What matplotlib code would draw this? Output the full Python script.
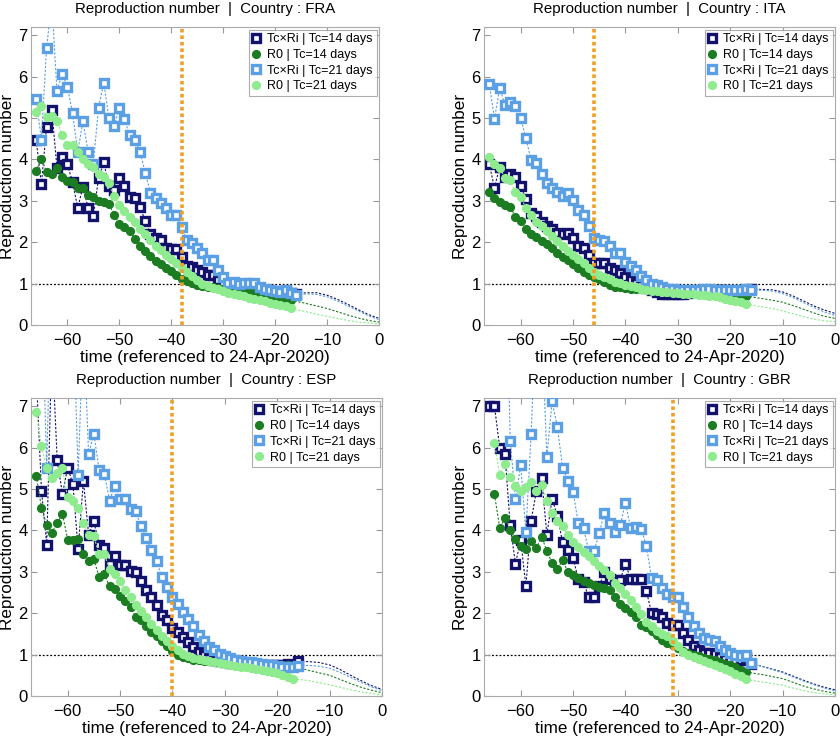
import numpy as np
import matplotlib.pyplot as plt

plt.rcParams['font.family'] = ['Liberation Sans', 'DejaVu Sans']

# days relative to 24-Apr-2020
days_ri = np.arange(-66, -15)   # Tc x Ri : -66 .. -16
days_r0 = np.arange(-66, -16)   # R0      : -66 .. -17
ext_ri = [-16, -14, -12, -10, -8, -6, -4, -2, 0]
ext_r0 = [-17, -14, -12, -10, -8, -6, -4, -2, 0]

countries = ['FRA', 'ITA', 'ESP', 'GBR']
vline_day = [-38, -46, -40, -31]

# ---- FRA
fra_ri14 = [4.46, 3.41, 4.78, 5.20, 3.80, 4.06, 3.88, 3.45, 2.83, 3.34, 2.83, 2.63, 3.54, 3.93, 3.37, 3.26, 3.55,
            3.37, 3.10, 3.07, 2.85, 2.51, 2.21, 2.09, 2.05, 1.86, 1.84, 1.84, 1.65, 1.43, 1.39, 1.33, 1.28, 1.22,
            1.20, 1.09, 1.02, 0.97, 0.96, 0.95, 0.93, 0.92, 0.92, 0.88, 0.85, 0.83, 0.81, 0.80, 0.83, 0.78, 0.75]
fra_r014 = [3.72, 4.02, 3.70, 3.64, 3.80, 3.58, 3.48, 3.46, 3.32, 3.30, 3.15, 3.10, 3.00, 2.97, 2.92, 2.66, 2.45,
            2.36, 2.28, 2.08, 1.92, 1.78, 1.66, 1.55, 1.48, 1.38, 1.30, 1.20, 1.12, 1.06, 1.01, 0.97, 0.95, 0.93,
            0.92, 0.90, 0.88, 0.86, 0.84, 0.83, 0.82, 0.80, 0.78, 0.76, 0.73, 0.70, 0.68, 0.65, 0.62, 0.60]
fra_ri21 = [5.45, 4.47, 6.70, 7.80, 5.66, 6.07, 5.76, 5.12, 4.18, 4.92, 4.18, 3.90, 5.25, 5.85, 5.01, 4.80, 5.25,
            4.97, 4.58, 4.48, 4.18, 3.68, 3.19, 3.06, 2.94, 2.82, 2.65, 2.65, 2.37, 2.05, 1.97, 1.85, 1.73, 1.57,
            1.57, 1.34, 1.15, 1.02, 1.05, 1.00, 1.02, 1.02, 1.02, 0.92, 0.86, 0.84, 0.82, 0.80, 0.84, 0.78, 0.73]
fra_r021 = [5.15, 5.30, 5.03, 5.05, 4.93, 4.58, 4.36, 4.36, 4.18, 4.02, 3.88, 3.82, 3.65, 3.58, 3.42, 3.12, 2.90,
            2.75, 2.62, 2.50, 2.33, 2.20, 2.05, 1.92, 1.82, 1.70, 1.60, 1.50, 1.38, 1.28, 1.18, 1.08, 1.00, 0.95,
            0.90, 0.86, 0.82, 0.78, 0.75, 0.72, 0.69, 0.66, 0.63, 0.60, 0.57, 0.54, 0.51, 0.48, 0.45, 0.40]
fra_ext = [[0.75, 0.78, 0.78, 0.72, 0.62, 0.50, 0.37, 0.25, 0.16],
           [0.60, 0.52, 0.46, 0.40, 0.32, 0.24, 0.17, 0.11, 0.07],
           [0.73, 0.75, 0.74, 0.68, 0.58, 0.46, 0.34, 0.22, 0.13],
           [0.40, 0.32, 0.26, 0.21, 0.16, 0.11, 0.07, 0.05, 0.03]]

# ---- ITA
ita_ri14 = [3.89, 3.32, 3.82, 3.58, 3.64, 3.58, 3.36, 3.04, 2.70, 2.64, 2.50, 2.40, 2.33, 2.22, 2.20, 2.22, 2.10,
            1.92, 1.86, 1.68, 1.49, 1.51, 1.49, 1.38, 1.33, 1.26, 1.17, 1.09, 1.02, 0.97, 0.90, 0.85, 0.80, 0.76,
            0.75, 0.75, 0.76, 0.76, 0.78, 0.80, 0.81, 0.82, 0.83, 0.84, 0.84, 0.84, 0.83, 0.82, 0.83, 0.85, 0.86]
ita_r014 = [3.22, 3.08, 2.98, 2.90, 2.86, 2.61, 2.52, 2.33, 2.20, 2.12, 2.04, 1.95, 1.85, 1.74, 1.65, 1.57, 1.48,
            1.38, 1.29, 1.22, 1.17, 1.10, 1.03, 0.97, 0.93, 0.91, 0.89, 0.88, 0.87, 0.86, 0.86, 0.86, 0.86, 0.86,
            0.87, 0.87, 0.87, 0.87, 0.88, 0.88, 0.88, 0.87, 0.86, 0.85, 0.84, 0.82, 0.80, 0.78, 0.75, 0.70]
ita_ri21 = [5.83, 4.98, 5.73, 5.32, 5.38, 5.28, 4.99, 4.52, 3.98, 3.92, 3.65, 3.42, 3.32, 3.22, 3.12, 3.20, 3.03,
            2.77, 2.66, 2.40, 2.09, 2.06, 2.04, 1.90, 1.73, 1.73, 1.53, 1.43, 1.33, 1.18, 1.08, 0.99, 0.96, 0.92,
            0.88, 0.86, 0.85, 0.84, 0.84, 0.85, 0.85, 0.86, 0.86, 0.85, 0.85, 0.84, 0.84, 0.84, 0.85, 0.86, 0.85]
ita_r021 = [4.05, 3.90, 3.80, 3.55, 3.50, 3.22, 3.10, 2.82, 2.66, 2.50, 2.38, 2.26, 2.14, 2.02, 1.90, 1.80, 1.70,
            1.59, 1.49, 1.38, 1.28, 1.22, 1.16, 1.10, 1.05, 1.01, 0.97, 0.94, 0.91, 0.88, 0.85, 0.83, 0.81, 0.80,
            0.79, 0.78, 0.77, 0.76, 0.75, 0.74, 0.73, 0.72, 0.71, 0.69, 0.67, 0.64, 0.61, 0.58, 0.55, 0.51]
ita_ext = [[0.86, 0.86, 0.85, 0.80, 0.70, 0.58, 0.46, 0.36, 0.28],
           [0.70, 0.64, 0.60, 0.55, 0.47, 0.38, 0.29, 0.21, 0.16],
           [0.85, 0.84, 0.82, 0.76, 0.66, 0.54, 0.42, 0.31, 0.23],
           [0.51, 0.44, 0.40, 0.34, 0.27, 0.20, 0.14, 0.10, 0.08]]

# ---- ESP
esp_ri14 = [7.80, 4.96, 3.66, 8.50, 5.70, 4.88, 5.52, 5.12, 3.55, 5.20, 3.90, 4.22, 3.66, 3.58, 3.20, 3.38, 3.17,
            3.17, 3.02, 3.00, 2.77, 2.55, 2.38, 2.20, 1.95, 1.83, 1.65, 1.54, 1.42, 1.30, 1.18, 1.06, 0.98, 0.93,
            0.88, 0.85, 0.82, 0.80, 0.79, 0.78, 0.78, 0.77, 0.77, 0.76, 0.76, 0.75, 0.74, 0.76, 0.77, 0.76, 0.84]
esp_r014 = [5.32, 4.55, 4.12, 3.95, 4.18, 4.40, 3.78, 3.78, 3.80, 3.42, 3.27, 3.30, 2.88, 2.94, 2.65, 2.58, 2.42,
            2.30, 2.16, 1.90, 1.84, 1.70, 1.55, 1.45, 1.34, 1.22, 1.08, 1.00, 0.95, 0.91, 0.88, 0.86, 0.85, 0.84,
            0.83, 0.82, 0.82, 0.81, 0.81, 0.80, 0.80, 0.80, 0.79, 0.79, 0.78, 0.77, 0.76, 0.75, 0.74, 0.72]
esp_ri21 = [9.00, 10.0, 5.52, 11.0, 12.0, 12.0, 11.0, 9.50, 5.34, 9.00, 5.85, 6.33, 5.47, 5.37, 4.72, 5.08, 4.75,
            4.75, 4.52, 4.47, 4.10, 3.81, 3.53, 3.25, 2.87, 2.64, 2.40, 2.22, 2.04, 1.86, 1.70, 1.47, 1.34, 1.18,
            1.10, 1.02, 0.97, 0.92, 0.88, 0.85, 0.83, 0.82, 0.80, 0.78, 0.76, 0.74, 0.72, 0.70, 0.70, 0.70, 0.73]
esp_r021 = [6.86, 6.03, 5.50, 5.26, 5.38, 5.50, 4.80, 4.70, 4.55, 4.18, 3.90, 3.86, 3.42, 3.42, 3.07, 2.94, 2.78,
            2.56, 2.38, 2.20, 2.06, 1.90, 1.74, 1.60, 1.46, 1.34, 1.20, 1.10, 1.02, 0.97, 0.93, 0.90, 0.87, 0.84,
            0.81, 0.79, 0.77, 0.75, 0.73, 0.71, 0.69, 0.67, 0.65, 0.63, 0.61, 0.58, 0.55, 0.51, 0.47, 0.42]
esp_ext = [[0.84, 0.83, 0.81, 0.75, 0.64, 0.50, 0.37, 0.25, 0.16],
           [0.72, 0.62, 0.56, 0.50, 0.40, 0.30, 0.21, 0.14, 0.08],
           [0.73, 0.74, 0.72, 0.67, 0.57, 0.45, 0.33, 0.22, 0.13],
           [0.42, 0.37, 0.32, 0.27, 0.21, 0.15, 0.10, 0.06, 0.03]]

# ---- GBR
gbr_ri14 = [7.00, 7.00, 6.00, 5.84, 4.13, 3.20, 3.76, 2.66, 4.24, 4.95, 5.26, 3.90, 4.77, 4.35, 3.72, 3.52, 3.34,
            2.82, 2.76, 2.38, 2.38, 2.65, 3.00, 2.83, 2.80, 2.80, 3.20, 2.82, 2.82, 2.82, 2.53, 2.00, 1.98, 1.90,
            1.77, 1.71, 1.71, 1.52, 1.36, 1.22, 1.10, 1.04, 1.04, 1.02, 0.94, 0.90, 0.90, 0.88, 0.86, 0.95, 0.78]
gbr_r014 = [np.nan, 4.87, 4.06, 4.30, 4.00, 3.80, 3.62, 3.55, 3.75, 3.58, 3.85, 3.50, 3.22, 3.07, 3.28, 3.00, 2.93,
            2.86, 2.78, 2.72, 2.68, 2.64, 2.62, 2.56, 2.40, 2.23, 2.13, 2.03, 1.92, 1.72, 1.66, 1.56, 1.48, 1.36,
            1.28, 1.24, 1.16, 1.08, 1.03, 1.00, 0.96, 0.93, 0.90, 0.86, 0.82, 0.78, 0.74, 0.70, 0.64, 0.58]
gbr_ri21 = [9.00, 10.0, 11.0, 12.0, 6.17, 4.77, 5.58, 3.97, 6.33, 9.50, 9.00, 5.78, 7.12, 6.50, 5.52, 5.20, 4.94,
            4.17, 4.05, 3.50, 3.50, 3.94, 4.43, 4.19, 3.97, 4.12, 4.67, 4.05, 4.09, 4.04, 3.63, 2.84, 2.80, 2.60,
            2.47, 2.40, 2.40, 2.14, 1.90, 1.70, 1.52, 1.40, 1.36, 1.34, 1.22, 1.10, 1.04, 1.00, 0.96, 1.00, 0.80]
gbr_r021 = [np.nan, 6.12, 5.35, 5.60, 5.28, 5.08, 4.95, 5.04, 5.17, 4.95, 5.10, 4.72, 4.42, 4.24, 4.10, 3.90, 3.72,
            3.60, 3.48, 3.38, 3.27, 3.15, 3.04, 2.92, 2.72, 2.60, 2.46, 2.31, 2.16, 1.98, 1.80, 1.68, 1.57, 1.49,
            1.44, 1.34, 1.22, 1.06, 1.00, 0.95, 0.90, 0.85, 0.80, 0.75, 0.70, 0.65, 0.60, 0.54, 0.48, 0.40]
gbr_ext = [[0.78, 0.72, 0.65, 0.58, 0.48, 0.38, 0.29, 0.21, 0.15],
           [0.58, 0.52, 0.47, 0.42, 0.33, 0.24, 0.17, 0.11, 0.07],
           [0.80, 0.72, 0.64, 0.56, 0.46, 0.36, 0.27, 0.19, 0.12],
           [0.40, 0.34, 0.30, 0.26, 0.19, 0.13, 0.08, 0.05, 0.03]]

series = {
    'FRA': [fra_ri14, fra_r014, fra_ri21, fra_r021, fra_ext],
    'ITA': [ita_ri14, ita_r014, ita_ri21, ita_r021, ita_ext],
    'ESP': [esp_ri14, esp_r014, esp_ri21, esp_r021, esp_ext],
    'GBR': [gbr_ri14, gbr_r014, gbr_ri21, gbr_r021, gbr_ext],
}

labels = ['Tc\u00d7Ri | Tc=14 days', 'R0 | Tc=14 days', 'Tc\u00d7Ri | Tc=21 days', 'R0 | Tc=21 days']
colors = ['#12126c', '#1c7c22', '#5b9fe4', '#8eec8e']
is_ri = [True, False, True, False]

# axes boxes in pixels: left, top, right, bottom
boxes = [(31, 27, 379, 325), (484, 27, 835, 325), (31, 398, 382, 696), (484, 398, 835, 696)]

fig = plt.figure(figsize=(8.4, 7.4), dpi=100)

for k, cc in enumerate(countries):
    l, t, r, b = boxes[k]
    w, h = r - l, b - t
    ax = fig.add_axes([l / 840, 1 - b / 740, w / 840, h / 740])
    data = series[cc]
    handles = []
    for i in range(4):
        days = days_ri if is_ri[i] else days_r0
        ext = ext_ri if is_ri[i] else ext_r0
        c = colors[i]
        ax.plot(days, data[i], ls=(0, (2, 1.5)), lw=0.8, color=c, zorder=2 + i)
        ax.plot(ext, data[4][i], ls=(0, (2, 1.5)), lw=0.8, color=c, zorder=2 + i)
        if is_ri[i]:
            hd, = ax.plot(days, data[i], ls='none', marker='s', ms=5.6, mec=c, mfc='white',
                          mew=2.4, zorder=2 + i, label=labels[i])
        else:
            hd, = ax.plot(days, data[i], ls='none', marker='o', ms=5.6, mec=c, mfc=c,
                          zorder=2 + i, label=labels[i])
        handles.append(hd)

    ax.axhline(1, color='black', ls=(0, (1.5, 1.5)), lw=0.9, zorder=1)
    ax.axvline(vline_day[k], color='#f0a028', ls=(0, (1, 0.8)), lw=2.6, zorder=10)

    ax.set_xlim(-67, 0)
    ax.set_ylim(0, 7.2)
    ax.set_xticks(range(-60, 1, 10))
    ax.set_yticks(range(0, 8))
    ax.tick_params(direction='in', top=True, right=True, length=4, labelsize=12,
                   color='#999999')
    ax.tick_params(axis='x', pad=6)
    ax.tick_params(axis='y', pad=2.5)
    for s in ax.spines.values():
        s.set_color('#aaaaaa')
        s.set_linewidth(0.8)

    ax.set_title('Reproduction number  |  Country : ' + cc, fontsize=10.8, pad=10)
    ax.set_xlabel('time (referenced to 24-Apr-2020)', fontsize=12.3)
    ax.xaxis.set_label_coords(0.5, -25 / h)
    ax.set_ylabel('Reproduction number', fontsize=12.3)
    ax.yaxis.set_label_coords(-16 / w, 0.5)

    leg = ax.legend(handles=handles, loc='upper right', fontsize=9, frameon=True, fancybox=False,
                    borderaxespad=0.2, handlelength=0.6, handletextpad=0.6, labelspacing=0.3,
                    borderpad=0.3)
    leg.get_frame().set_edgecolor('#999999')
    leg.get_frame().set_linewidth(0.8)
    leg.set_zorder(20)

fig.savefig('out.png', dpi=100)
